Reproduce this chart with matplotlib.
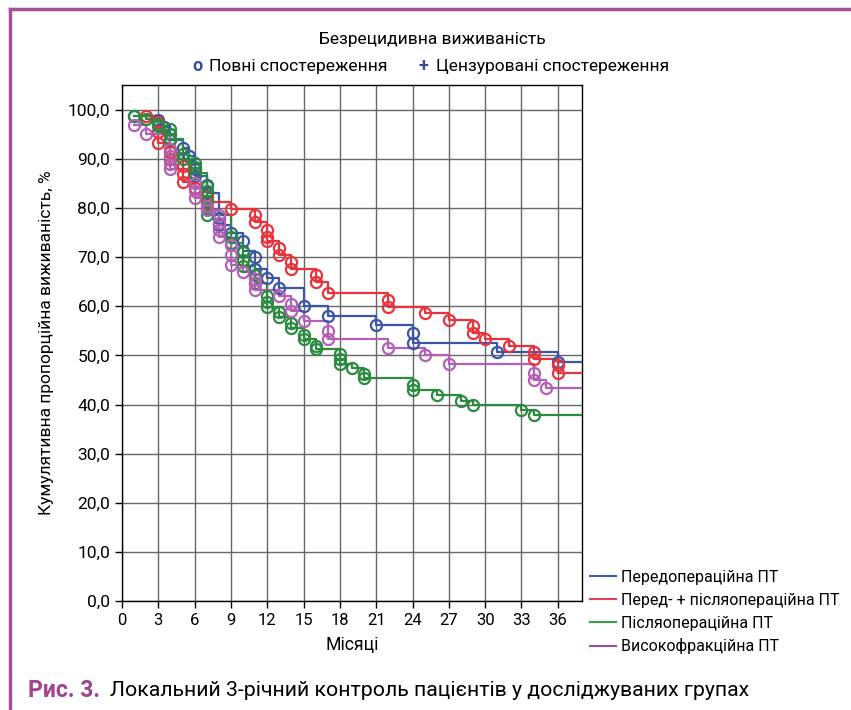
import matplotlib.pyplot as plt
from matplotlib.lines import Line2D

# event times (months) and survival (%) after each event
pre_t = [1, 3, 3.5, 4, 4, 5, 5.5, 6, 6, 7, 7, 8, 8, 9, 10, 10, 11, 11, 12, 13, 15, 17, 21, 24, 24, 31, 36]
pre_s = [98.8, 98.0, 96.5, 95.0, 93.8, 92.3, 90.5, 88.0, 86.5, 84.7, 83.0, 78.0, 76.5, 75.0, 73.3, 71.3,
         70.0, 67.6, 65.8, 63.7, 60.1, 58.0, 56.2, 54.6, 52.5, 50.7, 48.6]

prepost_t = [2, 3, 3, 3, 4, 4, 5, 5, 5, 6, 7, 7, 9, 11, 11, 12, 12, 12, 13, 13, 14, 14, 16, 16, 17,
             22, 22, 25, 27, 29, 29, 30, 32, 34, 34, 36, 36]
prepost_s = [98.8, 97.5, 95.5, 93.3, 91.5, 90.0, 88.5, 87.0, 85.2, 84.0, 82.5, 81.2, 79.8, 78.6, 77.2,
             75.6, 74.2, 73.3, 71.9, 70.5, 69.0, 67.6, 66.3, 65.0, 62.7, 61.3, 59.9, 58.6, 57.3, 55.9,
             54.6, 53.3, 52.0, 50.7, 49.2, 48.0, 46.5]

post_t = [1, 2, 3, 3, 4, 4, 4, 5, 5, 6, 6, 6, 7, 7, 7, 7, 7, 9, 9, 10, 10, 10, 11, 11, 12, 12, 12,
          13, 13, 14, 14, 15, 15, 16, 16, 18, 18, 18, 19, 20, 20, 24, 24, 26, 28, 29, 33, 34]
post_s = [98.8, 98.2, 97.2, 96.6, 96.0, 95.0, 94.0, 91.0, 90.0, 89.2, 88.3, 87.2, 84.5, 83.5, 81.5,
          80.0, 78.5, 74.0, 72.8, 71.0, 69.5, 68.2, 66.4, 64.8, 62.0, 60.8, 59.9, 58.9, 57.8, 56.5,
          55.6, 54.2, 53.3, 52.0, 51.3, 50.2, 49.2, 48.3, 47.5, 46.2, 45.3, 44.0, 43.0, 41.9, 40.8,
          39.9, 38.8, 37.8]

hf_t = [1, 2, 4, 4, 4, 4, 6, 6, 6, 7, 7, 8, 8, 8, 8, 9, 9, 9, 10, 11, 11, 11, 13, 14, 14, 15, 17,
        17, 22, 25, 27, 34, 34, 35]
hf_s = [97.0, 95.0, 92.0, 90.5, 89.0, 88.0, 85.0, 83.5, 82.0, 80.5, 79.5, 78.5, 77.0, 75.5, 74.0,
        72.5, 70.5, 68.5, 67.0, 65.5, 64.5, 63.3, 62.0, 60.5, 59.0, 57.0, 55.0, 53.3, 51.6, 50.0,
        48.2, 46.5, 45.0, 43.3]

groups = ['Передопераційна ПТ', 'Перед- + післяопераційна ПТ', 'Післяопераційна ПТ', 'Високофракційна ПТ']
x_ticks = list(range(0, 37, 3))
y_ticks = list(range(0, 101, 10))
x_end = 38

curves = [(pre_t, pre_s, '#3b56a6'), (prepost_t, prepost_s, '#e8333c'),
          (post_t, post_s, '#2b8a40'), (hf_t, hf_s, '#b35fb5')]
legend_colors = ['#3b5ba5', '#e0405a', '#3aa050', '#9a4a9a']

font = ['Roboto', 'DejaVu Sans']

fig = plt.figure(figsize=(8.51, 7.10), dpi=100)
ax = fig.add_axes([0.1434, 0.1535, 0.5405, 0.7265])

for t, s, c in curves:
    ax.step(t + [x_end], s + [s[-1]], where='post', color=c, lw=1.6, zorder=3)
    ax.plot(t, s, 'o', mfc='none', mec=c, ms=8, mew=1.6, zorder=4)

ax.set_xlim(0, x_end)
ax.set_ylim(0, 105)
ax.set_xticks(x_ticks)
ax.set_yticks(y_ticks)
ax.set_xticklabels([str(v) for v in x_ticks], fontfamily=font, fontsize=12)
ax.set_yticklabels([f'{v},0' for v in y_ticks], fontfamily=font, fontsize=12.5)
ax.grid(True, color='#666666', lw=1)
ax.set_axisbelow(True)
for sp in ax.spines.values():
    sp.set_linewidth(1)
ax.tick_params(length=5, width=1)

ax.set_xlabel('Місяці', fontfamily=font, fontsize=12.7, labelpad=6)
ax.set_ylabel('Кумулятивна пропорційна виживаність, %', fontfamily=font, fontsize=12.5, labelpad=10)

# top title and marker legend
fig.text(0.508, 0.945, 'Безрецидивна виживаність', ha='center', va='center',
         fontfamily=font, fontsize=12.5)
fig.text(0.232, 0.907, 'o', ha='center', va='center', color='#3b4a8f', fontsize=13,
         fontweight='bold', fontfamily=font)
fig.text(0.246, 0.907, 'Повні спостереження', ha='left', va='center', fontfamily=font, fontsize=12.6)
fig.text(0.497, 0.907, '+', ha='center', va='center', color='#3b4a8f', fontsize=13,
         fontweight='bold', fontfamily=font)
fig.text(0.512, 0.907, 'Цензуровані спостереження', ha='left', va='center', fontfamily=font, fontsize=12.5)

# bottom-right legend
handles = [Line2D([], [], color=c, lw=1.5) for c in legend_colors]
fig.legend(handles, groups, loc='center left', bbox_to_anchor=(0.686, 0.138), frameon=False,
           prop={'family': font, 'size': 11.5}, handlelength=1.6, handletextpad=0.35,
           labelspacing=0.5, borderaxespad=0)

# caption
fig.text(0.033, 0.028, 'Рис. 3.', ha='left', va='center', color='#a3408f', fontweight='bold',
         fontfamily=font, fontsize=16.5)
fig.text(0.129, 0.028, 'Локальний 3-річний контроль пацієнтів у досліджуваних групах',
         ha='left', va='center', fontfamily=font, fontsize=15.3)

# page border
fig.add_artist(Line2D([0.012, 1.0], [0.987, 0.987], color='#a6509a', lw=2.5))
fig.add_artist(Line2D([0.012, 0.012], [0.0, 0.987], color='#a6509a', lw=2.5))

fig.savefig('out.png', dpi=100)
